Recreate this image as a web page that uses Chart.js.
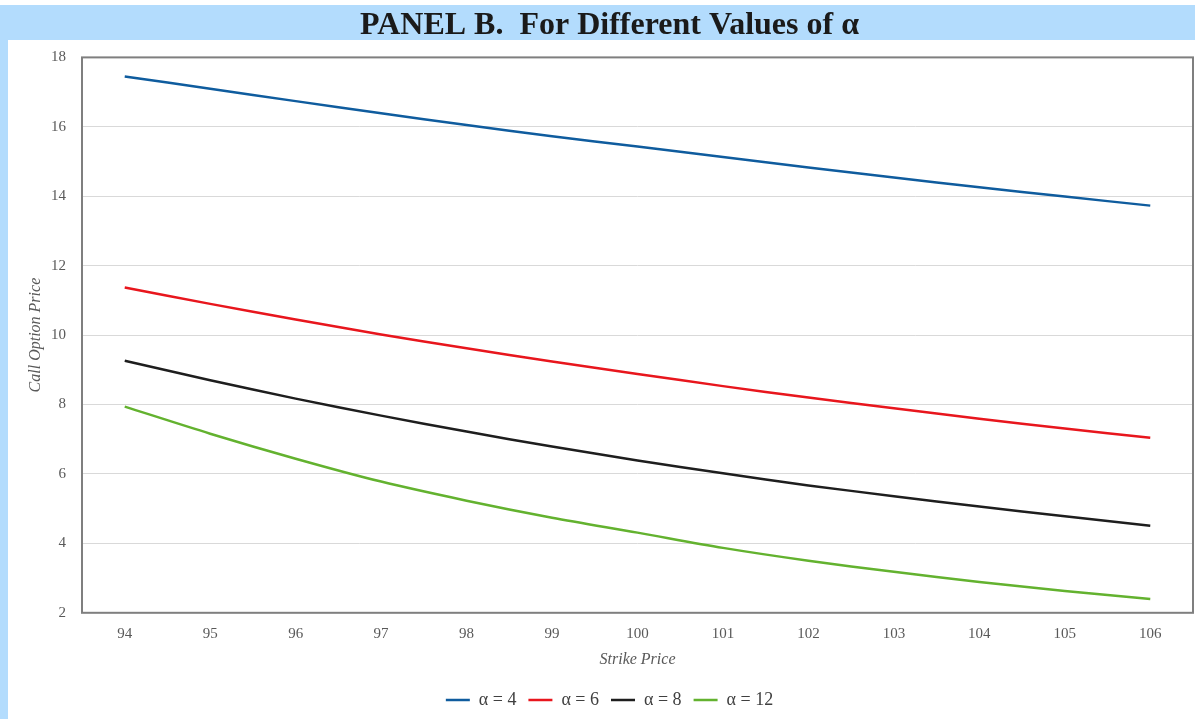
<!DOCTYPE html>
<html>
<head>
<meta charset="utf-8">
<script src="https://cdn.jsdelivr.net/npm/chart.js@4"></script>
<style>
  html, body { margin: 0; padding: 0; background: #fff; }
  #wrap { position: relative; width: 1195px; height: 719px; }
</style>
</head>
<body>
<div id="wrap"><canvas id="optChart"></canvas></div>
<script>
// strike prices on the x axis
const strikes = ['94', '95', '96', '97', '98', '99', '100', '101', '102', '103', '104', '105', '106'];

// call prices, one array per alpha
const alpha4  = [17.45, 17.10, 16.74, 16.39, 16.05, 15.73, 15.43, 15.13, 14.83, 14.54, 14.26, 13.99, 13.73];
const alpha6  = [11.37, 10.90, 10.45, 10.02, 9.62, 9.24, 8.88, 8.53, 8.20, 7.89, 7.59, 7.31, 7.04];
const alpha8  = [9.26, 8.70, 8.17, 7.68, 7.22, 6.79, 6.39, 6.02, 5.67, 5.36, 5.06, 4.78, 4.51];
const alpha12 = [7.94, 7.16, 6.44, 5.78, 5.23, 4.74, 4.31, 3.87, 3.50, 3.18, 2.89, 2.63, 2.40];

const seriesLabels = ['\u03B1 = 4', '\u03B1 = 6', '\u03B1 = 8', '\u03B1 = 12'];
const seriesColors = ['#0f5c9e', '#e8161d', '#1e1e1e', '#63b22f'];

const serif = "'Liberation Serif', 'DejaVu Serif', serif";

// light blue title band and left strip behind everything
const panelBackground = {
    id: 'panelBackground',
    beforeDraw(chart) {
        const c = chart.ctx;
        c.save();
        c.fillStyle = '#fff';
        c.fillRect(0, 0, chart.width, chart.height);
        c.fillStyle = '#b3dcfd';
        c.fillRect(0, 5, chart.width, 35);
        c.fillRect(0, 40, 8, chart.height - 40);
        c.restore();
    },
    afterDraw(chart) {
        // frame around the plot area
        const a = chart.chartArea;
        const c = chart.ctx;
        c.save();
        c.strokeStyle = '#7f7f7f';
        c.lineWidth = 2;
        c.strokeRect(a.left, a.top, a.right - a.left, a.bottom - a.top);
        c.restore();
    }
};

const ctx = document.getElementById('optChart').getContext('2d');
const optChart = new Chart(ctx, {
    type: 'line',
    data: {
        labels: strikes,
        datasets: [alpha4, alpha6, alpha8, alpha12].map((vals, i) => ({
            label: seriesLabels[i],
            data: vals,
            borderColor: seriesColors[i],
            backgroundColor: seriesColors[i],
            borderWidth: 2.5,
            pointRadius: 0,
            tension: 0.3
        }))
    },
    options: {
        responsive: true,
        maintainAspectRatio: false,
        animation: false,
        layout: { padding: { left: 26, right: 2, top: 0, bottom: 0 } },
        plugins: {
            title: {
                display: true,
                text: 'PANEL B.  For Different Values of \u03B1',
                color: '#1a1a1a',
                font: { family: serif, size: 32, weight: 'bold' },
                padding: { top: 7, bottom: 12 }
            },
            legend: {
                position: 'bottom',
                labels: {
                    usePointStyle: true,
                    pointStyle: 'line',
                    pointStyleWidth: 24,
                    color: '#404040',
                    padding: 12,
                    font: { family: serif, size: 18 }
                }
            },
            tooltip: { enabled: false }
        },
        scales: {
            x: {
                offset: true,
                grid: { display: false },
                border: { display: false },
                ticks: { color: '#595959', font: { family: serif, size: 15 }, padding: 4 },
                title: {
                    display: true,
                    text: 'Strike Price',
                    color: '#595959',
                    font: { family: serif, size: 16, style: 'italic' },
                    padding: { top: 3, bottom: 10 }
                }
            },
            y: {
                min: 2,
                max: 18,
                afterFit(scale) { scale.width = 56; },
                ticks: { stepSize: 2, color: '#595959', font: { family: serif, size: 15 }, padding: 16 },
                grid: { color: '#d9d9d9', drawTicks: false },
                border: { display: false },
                title: {
                    display: true,
                    text: 'Call Option Price',
                    color: '#595959',
                    font: { family: serif, size: 16, style: 'italic' },
                    padding: { top: 0, bottom: 4 }
                }
            }
        }
    },
    plugins: [panelBackground]
});
</script>
</body>
</html>
